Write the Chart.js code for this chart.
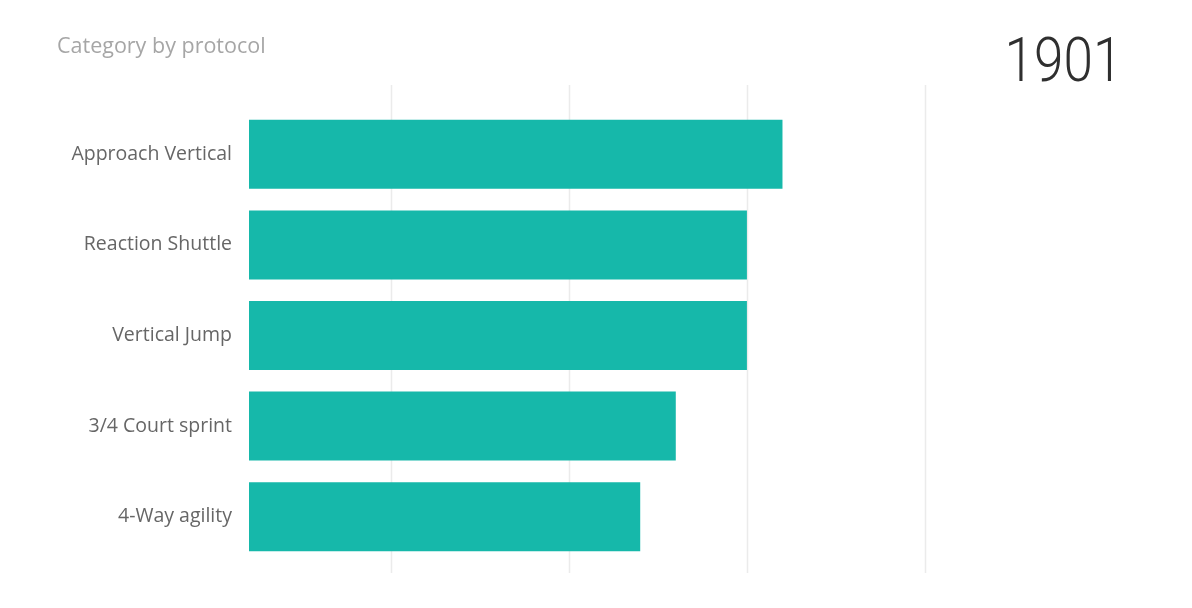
<!DOCTYPE html>
<html>
<head>
<meta charset="utf-8">
<script src="https://cdn.jsdelivr.net/npm/chart.js@4/dist/chart.umd.min.js"></script>
<style>
  html, body { margin: 0; padding: 0; background: #fff; }
  #wrap { position: relative; width: 1192px; height: 608px; overflow: hidden; }
  #title { position: absolute; left: 57px; top: 32px; font-family: "Open Sans", sans-serif; font-size: 21.5px; line-height: 1.2; color: #a6a6a6; }
  #year { position: absolute; right: 70px; top: 30px; font-family: Roboto, sans-serif; font-weight: 300; font-size: 61px; line-height: 1; color: #2f2f2f; transform: scaleX(0.87); transform-origin: right top; }
  canvas { position: absolute; left: 0; top: 0; }
</style>
</head>
<body>
<div id="wrap">
  <canvas id="c" width="1192" height="608"></canvas>
  <div id="title">Category by protocol</div>
  <div id="year">1901</div>
</div>
<script>
const categories = ["Approach Vertical", "Reaction Shuttle", "Vertical Jump", "3/4 Court sprint", "4-Way agility"];
const values = [32, 30, 30, 26, 24];
const xMin = 2, xMax = 48, xStep = 10;

const extendedGrid = {
  id: 'extendedGrid',
  beforeDatasetsDraw(chart) {
    const ctx = chart.ctx, xs = chart.scales.x, a = chart.chartArea;
    ctx.save();
    ctx.strokeStyle = '#ebebeb';
    ctx.lineWidth = 1.5;
    xs.ticks.forEach(t => {
      const px = Math.round(xs.getPixelForValue(t.value)) + 0.5;
      ctx.beginPath();
      ctx.moveTo(px, a.top - 24);
      ctx.lineTo(px, a.bottom + 11);
      ctx.stroke();
    });
    ctx.restore();
  }
};

new Chart(document.getElementById('c'), {
  type: 'bar',
  data: {
    labels: categories,
    datasets: [{ data: values, backgroundColor: '#16b8aa', borderWidth: 0, categoryPercentage: 1, barPercentage: 0.762 }]
  },
  options: {
    indexAxis: 'y',
    responsive: false,
    animation: false,
    layout: { padding: { top: 109, bottom: 46, left: 0, right: 125 } },
    plugins: { legend: { display: false }, tooltip: { enabled: false } },
    scales: {
      x: {
        min: xMin, max: xMax,
        afterFit(s) { s.height = 0; },
        ticks: { stepSize: xStep, includeBounds: false, display: false },
        grid: { display: false, drawTicks: false },
        border: { display: false }
      },
      y: {
        afterFit(s) { s.width = 249; },
        grid: { display: false, drawTicks: false },
        border: { display: false },
        ticks: { color: '#666', padding: 17, font: { family: 'Open Sans', size: 19.5 } }
      }
    }
  },
  plugins: [extendedGrid]
});
</script>
</body>
</html>
